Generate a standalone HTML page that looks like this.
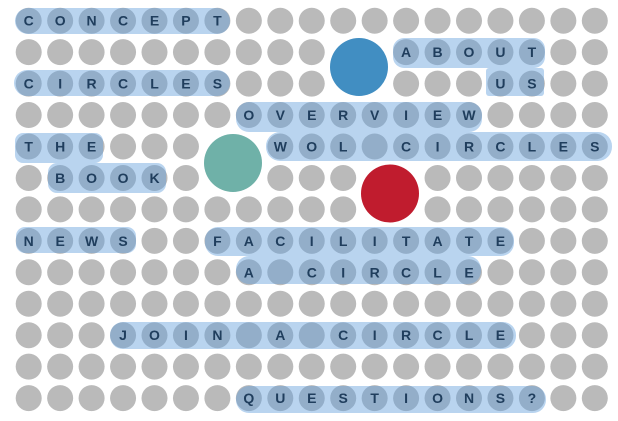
<!DOCTYPE html>
<html>
<head>
<meta charset="utf-8">
<title>Word circles navigation grid</title>
<style>
html,body{margin:0;padding:0;background:#fff;}
svg{display:block;}
.letter{font-family:"Liberation Sans",sans-serif;font-weight:bold;font-size:14px;fill:#203e5d;text-anchor:middle;}
.hl{fill:#64a0dc;fill-opacity:.45;}
</style>
</head>
<body>
<svg id="grid" width="618" height="421" viewBox="0 0 618 421" xmlns="http://www.w3.org/2000/svg">
<rect width="618" height="421" fill="#fff"/>
<g id="dots"></g>
<g id="highlights">
<rect class="hl" x="15" y="8" width="215" height="26" rx="13"/>
<rect class="hl" x="14" y="70" width="216" height="26" rx="13"/>
<rect class="hl" x="393" y="38" width="152" height="30" rx="11"/>
<rect class="hl" x="486" y="68" width="58" height="28" rx="3"/>
<rect class="hl" x="236" y="102" width="246" height="30" rx="13"/>
<rect class="hl" x="15" y="133" width="88" height="30" rx="8"/>
<rect class="hl" x="266" y="132" width="346" height="29" rx="14"/>
<rect class="hl" x="48" y="163" width="118" height="30" rx="9"/>
<rect class="hl" x="16" y="227" width="120" height="26" rx="9"/>
<rect class="hl" x="205" y="227" width="309" height="29" rx="13"/>
<rect class="hl" x="236" y="256" width="245" height="28" rx="13"/>
<rect class="hl" x="110" y="322" width="406" height="27" rx="13"/>
<rect class="hl" x="236" y="386" width="310" height="27" rx="13"/>
</g>
<g id="letters"></g>
<circle cx="359" cy="67" r="29" fill="#418ec2"/>
<circle cx="233" cy="163" r="29" fill="#6fb1a8"/>
<circle cx="390" cy="193.5" r="29" fill="#c01c2e"/>
</svg>
<script>
var wordText = ["CONCEPT","ABOUT","CIRCLES","US","OVERVIEW","THE","WOL CIRCLES","BOOK","NEWS","FACILITATE","A CIRCLE","JOIN A CIRCLE","QUESTIONS?"];
var wordRow = [0,1,2,2,3,4,4,5,7,7,8,10,12];
var wordCol = [0,12,0,15,7,0,8,1,0,6,7,3,7];
var omittedCells = ["1,10","1,11","2,10","2,11","4,6","4,7","5,6","5,7","5,11","5,12","6,11","6,12"];
var rowCount = 13;
var colCount = 19;

function xPos(c){ return 28.7 + c * 31.45; }
function yPos(r){ return 20.7 + r * 31.45; }
var NS = "http://www.w3.org/2000/svg";
var dots = document.getElementById("dots");
var letters = document.getElementById("letters");

for (var r = 0; r < rowCount; r++) {
  for (var c = 0; c < colCount; c++) {
    if (omittedCells.indexOf(r + "," + c) !== -1) continue;
    var dot = document.createElementNS(NS, "circle");
    dot.setAttribute("cx", xPos(c));
    dot.setAttribute("cy", yPos(r));
    dot.setAttribute("r", 13);
    dot.setAttribute("fill", "#bababa");
    
    
    dots.appendChild(dot);
  }
}

for (var w = 0; w < wordText.length; w++) {
  for (var i = 0; i < wordText[w].length; i++) {
    var ch = wordText[w].charAt(i);
    if (ch === " ") continue;
    var t = document.createElementNS(NS, "text");
    t.setAttribute("class", "letter");
    t.setAttribute("x", xPos(wordCol[w] + i));
    t.setAttribute("y", yPos(wordRow[w]) + 5);
    t.textContent = ch;
    
    
    letters.appendChild(t);
  }
}
</script>
</body>
</html>
